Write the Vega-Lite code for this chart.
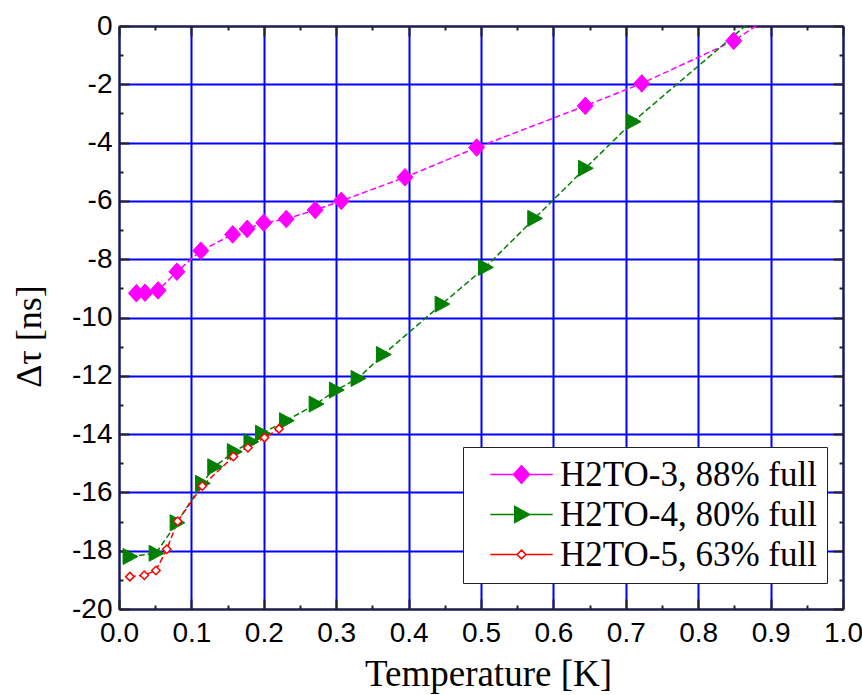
{
  "$schema": "https://vega.github.io/schema/vega-lite/v6.json",
  "width": 724,
  "height": 583,
  "autosize": "none",
  "padding": {"left": 119, "top": 26, "right": 19, "bottom": 86},
  "background": "white",
  "config": {"view": {"stroke": null}},
  "data": {
    "values": [
      {"s": "H2TO-3, 88% full", "T": 0.024, "dt": -9.17, "m": 1},
      {"s": "H2TO-3, 88% full", "T": 0.036, "dt": -9.15, "m": 1},
      {"s": "H2TO-3, 88% full", "T": 0.054, "dt": -9.07, "m": 1},
      {"s": "H2TO-3, 88% full", "T": 0.080, "dt": -8.43, "m": 1},
      {"s": "H2TO-3, 88% full", "T": 0.113, "dt": -7.71, "m": 1},
      {"s": "H2TO-3, 88% full", "T": 0.157, "dt": -7.15, "m": 1},
      {"s": "H2TO-3, 88% full", "T": 0.177, "dt": -6.96, "m": 1},
      {"s": "H2TO-3, 88% full", "T": 0.200, "dt": -6.75, "m": 1},
      {"s": "H2TO-3, 88% full", "T": 0.231, "dt": -6.62, "m": 1},
      {"s": "H2TO-3, 88% full", "T": 0.271, "dt": -6.31, "m": 1},
      {"s": "H2TO-3, 88% full", "T": 0.307, "dt": -6.00, "m": 1},
      {"s": "H2TO-3, 88% full", "T": 0.395, "dt": -5.19, "m": 1},
      {"s": "H2TO-3, 88% full", "T": 0.494, "dt": -4.17, "m": 1},
      {"s": "H2TO-3, 88% full", "T": 0.644, "dt": -2.74, "m": 1},
      {"s": "H2TO-3, 88% full", "T": 0.722, "dt": -1.97, "m": 1},
      {"s": "H2TO-3, 88% full", "T": 0.849, "dt": -0.51, "m": 1},
      {"s": "H2TO-3, 88% full", "T": 0.880, "dt": 0.0, "m": 0},
      {"s": "H2TO-4, 80% full", "T": 0.015, "dt": -18.20, "m": 1},
      {"s": "H2TO-4, 80% full", "T": 0.051, "dt": -18.09, "m": 1},
      {"s": "H2TO-4, 80% full", "T": 0.080, "dt": -17.04, "m": 1},
      {"s": "H2TO-4, 80% full", "T": 0.115, "dt": -15.69, "m": 1},
      {"s": "H2TO-4, 80% full", "T": 0.132, "dt": -15.12, "m": 1},
      {"s": "H2TO-4, 80% full", "T": 0.159, "dt": -14.60, "m": 1},
      {"s": "H2TO-4, 80% full", "T": 0.182, "dt": -14.26, "m": 1},
      {"s": "H2TO-4, 80% full", "T": 0.198, "dt": -13.97, "m": 1},
      {"s": "H2TO-4, 80% full", "T": 0.231, "dt": -13.54, "m": 1},
      {"s": "H2TO-4, 80% full", "T": 0.272, "dt": -12.97, "m": 1},
      {"s": "H2TO-4, 80% full", "T": 0.300, "dt": -12.49, "m": 1},
      {"s": "H2TO-4, 80% full", "T": 0.330, "dt": -12.09, "m": 1},
      {"s": "H2TO-4, 80% full", "T": 0.365, "dt": -11.27, "m": 1},
      {"s": "H2TO-4, 80% full", "T": 0.446, "dt": -9.54, "m": 1},
      {"s": "H2TO-4, 80% full", "T": 0.506, "dt": -8.28, "m": 1},
      {"s": "H2TO-4, 80% full", "T": 0.574, "dt": -6.60, "m": 1},
      {"s": "H2TO-4, 80% full", "T": 0.644, "dt": -4.88, "m": 1},
      {"s": "H2TO-4, 80% full", "T": 0.710, "dt": -3.28, "m": 1},
      {"s": "H2TO-4, 80% full", "T": 0.865, "dt": 0.0, "m": 0},
      {"s": "H2TO-5, 63% full", "T": 0.015, "dt": -18.89, "m": 1},
      {"s": "H2TO-5, 63% full", "T": 0.035, "dt": -18.84, "m": 1},
      {"s": "H2TO-5, 63% full", "T": 0.051, "dt": -18.68, "m": 1},
      {"s": "H2TO-5, 63% full", "T": 0.066, "dt": -17.95, "m": 1},
      {"s": "H2TO-5, 63% full", "T": 0.081, "dt": -16.99, "m": 1},
      {"s": "H2TO-5, 63% full", "T": 0.115, "dt": -15.78, "m": 1},
      {"s": "H2TO-5, 63% full", "T": 0.158, "dt": -14.77, "m": 1},
      {"s": "H2TO-5, 63% full", "T": 0.178, "dt": -14.47, "m": 1},
      {"s": "H2TO-5, 63% full", "T": 0.201, "dt": -14.12, "m": 1},
      {"s": "H2TO-5, 63% full", "T": 0.221, "dt": -13.82, "m": 1}
    ]
  },
  "layer": [
    {
      "transform": [{"filter": "datum.s === 'H2TO-3, 88% full'"}],
      "mark": {"type": "line", "stroke": "#ff00ff", "strokeWidth": 1.5, "strokeDash": [6, 3]},
      "encoding": {
        "x": {
          "field": "T", "type": "quantitative",
          "scale": {"domain": [0, 1], "nice": false, "zero": false},
          "axis": {
            "orient": "bottom",
            "values": [0, 0.05, 0.1, 0.15, 0.2, 0.25, 0.3, 0.35, 0.4, 0.45, 0.5, 0.55, 0.6, 0.65, 0.7, 0.75, 0.8, 0.85, 0.9, 0.95, 1.0],
            "labelExpr": "abs(datum.value*10 - round(datum.value*10)) < 0.001 ? format(datum.value, '.1f') : ''",
            "labelFont": "Liberation Sans", "labelFontSize": 28, "labelColor": "black",
            "labelFlush": false, "labelOverlap": false, "labelPadding": 20,
            "tickSize": {"condition": {"test": "abs(datum.value*10 - round(datum.value*10)) < 0.001", "value": -10}, "value": -4},
            "tickColor": "#222", "tickWidth": 2,
            "domainColor": "#222", "domainWidth": 2,
            "grid": true, "gridColor": "#0000ff", "gridWidth": 2,
            "gridOpacity": {"condition": {"test": "abs(datum.value*10 - round(datum.value*10)) < 0.001", "value": 1}, "value": 0},
            "title": "Temperature [K]",
            "titleFont": "Liberation Serif", "titleFontSize": 37, "titleFontWeight": "normal", "titleColor": "black",
            "titleX": 369, "titleY": 76, "titleBaseline": "alphabetic", "titleAlign": "center"
          }
        },
        "y": {
          "field": "dt", "type": "quantitative",
          "scale": {"domain": [-20, 0], "nice": false, "zero": false},
          "axis": {
            "orient": "left",
            "values": [-20, -19, -18, -17, -16, -15, -14, -13, -12, -11, -10, -9, -8, -7, -6, -5, -4, -3, -2, -1, 0],
            "labelExpr": "datum.value % 2 === 0 ? '' + datum.value : ''",
            "labelFont": "Liberation Sans", "labelFontSize": 28, "labelColor": "black",
            "labelFlush": false, "labelOverlap": false, "labelPadding": 17,
            "tickSize": {"condition": {"test": "datum.value % 2 === 0", "value": -10}, "value": -4},
            "tickColor": "#222", "tickWidth": 2,
            "domainColor": "#222", "domainWidth": 2,
            "grid": true, "gridColor": "#0000ff", "gridWidth": 2,
            "gridOpacity": {"condition": {"test": "datum.value % 2 === 0", "value": 1}, "value": 0},
            "title": "Δτ [ns]",
            "titleFont": "Liberation Serif", "titleFontSize": 36, "titleFontWeight": "normal", "titleColor": "black",
            "titleX": -90, "titleY": 310, "titleAngle": 270, "titleBaseline": "middle", "titleAlign": "center"
          }
        }
      }
    },
    {
      "transform": [{"filter": "datum.s === 'H2TO-4, 80% full'"}],
      "mark": {"type": "line", "stroke": "#008000", "strokeWidth": 1.5, "strokeDash": [6, 3]},
      "encoding": {
        "x": {"field": "T", "type": "quantitative", "axis": null},
        "y": {"field": "dt", "type": "quantitative", "axis": null}
      }
    },
    {
      "transform": [{"filter": "datum.s === 'H2TO-5, 63% full'"}],
      "mark": {"type": "line", "stroke": "#ff0000", "strokeWidth": 1.5, "strokeDash": [6, 3]},
      "encoding": {
        "x": {"field": "T", "type": "quantitative", "axis": null},
        "y": {"field": "dt", "type": "quantitative", "axis": null}
      }
    },
    {
      "transform": [{"filter": "datum.s === 'H2TO-3, 88% full' && datum.m == 1"}],
      "mark": {"type": "point", "shape": "M0,-1.1L1,0L0,1.1L-1,0Z", "size": 256, "filled": true, "fill": "#ff00ff", "stroke": "#ff00ff", "strokeWidth": 1, "opacity": 1},
      "encoding": {
        "x": {
          "field": "T", "type": "quantitative",
          "axis": {
            "orient": "top",
            "values": [0, 0.05, 0.1, 0.15, 0.2, 0.25, 0.3, 0.35, 0.4, 0.45, 0.5, 0.55, 0.6, 0.65, 0.7, 0.75, 0.8, 0.85, 0.9, 0.95, 1.0],
            "labels": false, "grid": false, "title": null,
            "tickSize": {"condition": {"test": "abs(datum.value*10 - round(datum.value*10)) < 0.001", "value": -10}, "value": -4},
            "tickColor": "#222", "tickWidth": 2,
            "domainColor": "#222", "domainWidth": 2
          }
        },
        "y": {
          "field": "dt", "type": "quantitative",
          "axis": {
            "orient": "right",
            "values": [-20, -19, -18, -17, -16, -15, -14, -13, -12, -11, -10, -9, -8, -7, -6, -5, -4, -3, -2, -1, 0],
            "labels": false, "grid": false, "title": null,
            "tickSize": {"condition": {"test": "datum.value % 2 === 0", "value": -10}, "value": -4},
            "tickColor": "#222", "tickWidth": 2,
            "domainColor": "#222", "domainWidth": 2
          }
        }
      }
    },
    {
      "transform": [{"filter": "datum.s === 'H2TO-4, 80% full' && datum.m == 1"}],
      "mark": {"type": "point", "shape": "M-0.85,-1L1,0L-0.85,1Z", "size": 256, "filled": true, "fill": "#008000", "stroke": "#008000", "strokeWidth": 1, "opacity": 1},
      "encoding": {
        "x": {"field": "T", "type": "quantitative", "axis": null},
        "y": {"field": "dt", "type": "quantitative", "axis": null}
      }
    },
    {
      "transform": [{"filter": "datum.s === 'H2TO-5, 63% full' && datum.m == 1"}],
      "mark": {"type": "point", "shape": "M0,-1L1,0L0,1L-1,0Z", "size": 72, "filled": true, "fill": "#ffffff", "stroke": "#ff0000", "strokeWidth": 1.5, "opacity": 1},
      "encoding": {
        "x": {"field": "T", "type": "quantitative", "axis": null},
        "y": {"field": "dt", "type": "quantitative", "axis": null}
      }
    },
    {
      "transform": [{"filter": "datum.m == 9"}],
      "mark": {"type": "point", "strokeWidth": 1.5, "opacity": 1},
      "encoding": {
        "x": {"field": "T", "type": "quantitative", "axis": null},
        "y": {"field": "dt", "type": "quantitative", "axis": null},
        "stroke": {
          "field": "s", "type": "nominal",
          "scale": {"domain": ["H2TO-3, 88% full", "H2TO-4, 80% full", "H2TO-5, 63% full"], "range": ["#ff00ff", "#008000", "#ff0000"]},
          "legend": {
            "title": null, "orient": "none", "legendX": 344, "legendY": 421, "direction": "vertical",
            "padding": 10, "rowPadding": 4, "strokeColor": "#222", "fillColor": "white",
            "labelFont": "Liberation Serif", "labelFontSize": 35, "labelColor": "black", "labelLimit": 500,
            "symbolSize": 256, "symbolStrokeWidth": 1.5, "symbolOffset": 31, "labelOffset": 21
          }
        },
        "fill": {
          "field": "s", "type": "nominal",
          "scale": {"domain": ["H2TO-3, 88% full", "H2TO-4, 80% full", "H2TO-5, 63% full"], "range": ["#ff00ff", "#008000", "#ffffff"]},
          "legend": {
            "title": null, "orient": "none", "legendX": 344, "legendY": 421, "direction": "vertical",
            "padding": 10, "rowPadding": 4, "strokeColor": "#222", "fillColor": "white",
            "labelFont": "Liberation Serif", "labelFontSize": 35, "labelColor": "black", "labelLimit": 500,
            "symbolSize": 256, "symbolStrokeWidth": 1.5, "symbolOffset": 31, "labelOffset": 21
          }
        },
        "shape": {
          "field": "s", "type": "nominal",
          "scale": {"domain": ["H2TO-3, 88% full", "H2TO-4, 80% full", "H2TO-5, 63% full"], "range": ["M-3.9,0H-1M1,0H3.9M0,-1.1L1,0L0,1.1L-1,0Z", "M-3.9,0H-0.85M1,0H3.9M-0.85,-1L1,0L-0.85,1Z", "M-3.9,0H-0.55M0.55,0H3.9M0,-0.55L0.55,0L0,0.55L-0.55,0Z"]},
          "legend": {
            "title": null, "orient": "none", "legendX": 344, "legendY": 421, "direction": "vertical",
            "padding": 10, "rowPadding": 4, "strokeColor": "#222", "fillColor": "white",
            "labelFont": "Liberation Serif", "labelFontSize": 35, "labelColor": "black", "labelLimit": 500,
            "symbolSize": 256, "symbolStrokeWidth": 1.5, "symbolOffset": 31, "labelOffset": 21
          }
        }
      }
    }
  ],
  "resolve": {"axis": {"x": "independent", "y": "independent"}}
}
